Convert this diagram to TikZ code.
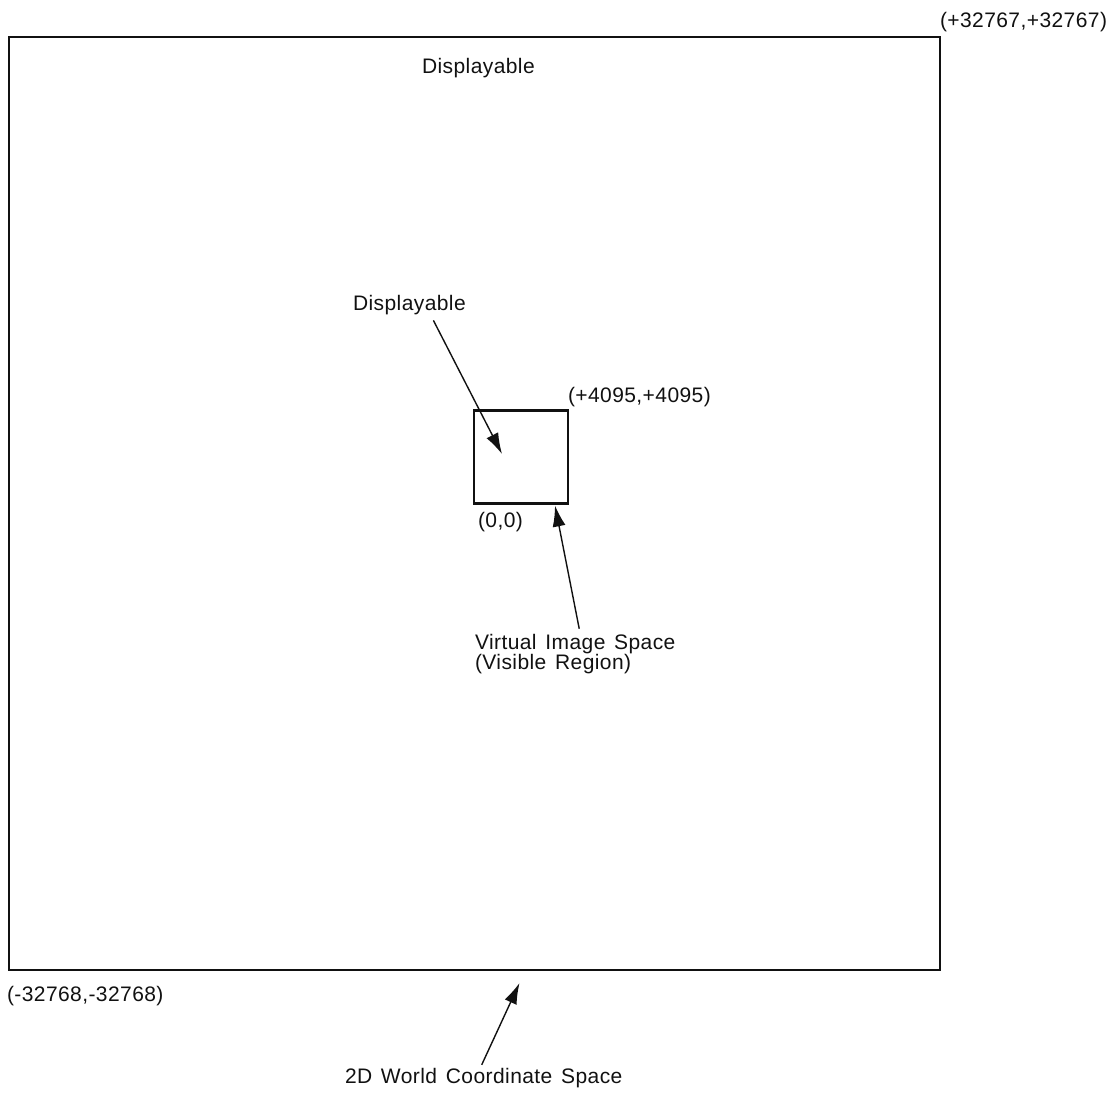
\documentclass[tikz,border=0pt]{standalone}
\usepackage{fontspec}
\usetikzlibrary{arrows.meta,positioning}
\newfontfamily\plotfont[LetterSpace=2,WordSpace=1.4]{Liberation Sans}
\definecolor{wcInk}{HTML}{111111}

\begin{document}
\begin{tikzpicture}[
  x=1pt,y=-1pt,
  font=\plotfont\fontsize{21}{17}\selectfont,
  every node/.style={
    text=wcInk,inner sep=0pt,outer sep=0pt
  },
  frame/.style={
    draw=wcInk,
    line width=2.4pt
  },
  tag/.style={
    anchor=base west,align=left
  },
  pointer/.style={
    -{Latex[length=21pt,width=13pt]},
    draw=wcInk,
    line width=1.4pt
  }
]
\path[use as bounding box] (0,0) rectangle (1118,1094);

% World space and the visible region
\node[
  frame,
  minimum width=931pt,
  minimum height=933pt
] (world) at (474.5,503.5) {};

\node[
  frame,
  minimum width=94pt,
  minimum height=93pt
] (visible) at (521,457) {};

% Corner labels
\node[tag] (wmax) at (940,28) {(+32767,+32767)};
\node[tag] (wmin) at (7,1001) {(-32768,-32768)};
\node[tag] (vmax) at (568,402) {(+4095,+4095)};
\node[tag] (vmin) at (478,527) {(0,0)};

% Region names
\node[tag] (outerdisp) at (422,74) {Displayable};
\node[tag] (innerdisp) at (353,310) {Displayable};

\node[tag] (vislabel) at (475,669)
  {Virtual Image Space\\[-1.5pt](Visible Region)};

\node[tag] (worldlabel) at (345,1083)
  {2D World Coordinate Space};

% Arrow ends
\coordinate (tipA) at ([shift={(-19,-3)}]visible.center);
\coordinate (tipB) at ([shift={(-13,2)}]visible.south east);
\coordinate (tipC) at ([shift={(45,13)}]world.south);

% Pointers
\draw[pointer] ([shift={(24,6)}]innerdisp.south) -- (tipA);
\draw[pointer] ([shift={(4,-6)}]vislabel.north) -- (tipB);
\draw[pointer] ([shift={(-2,-3)}]worldlabel.north) -- (tipC);

\end{tikzpicture}
\end{document}
